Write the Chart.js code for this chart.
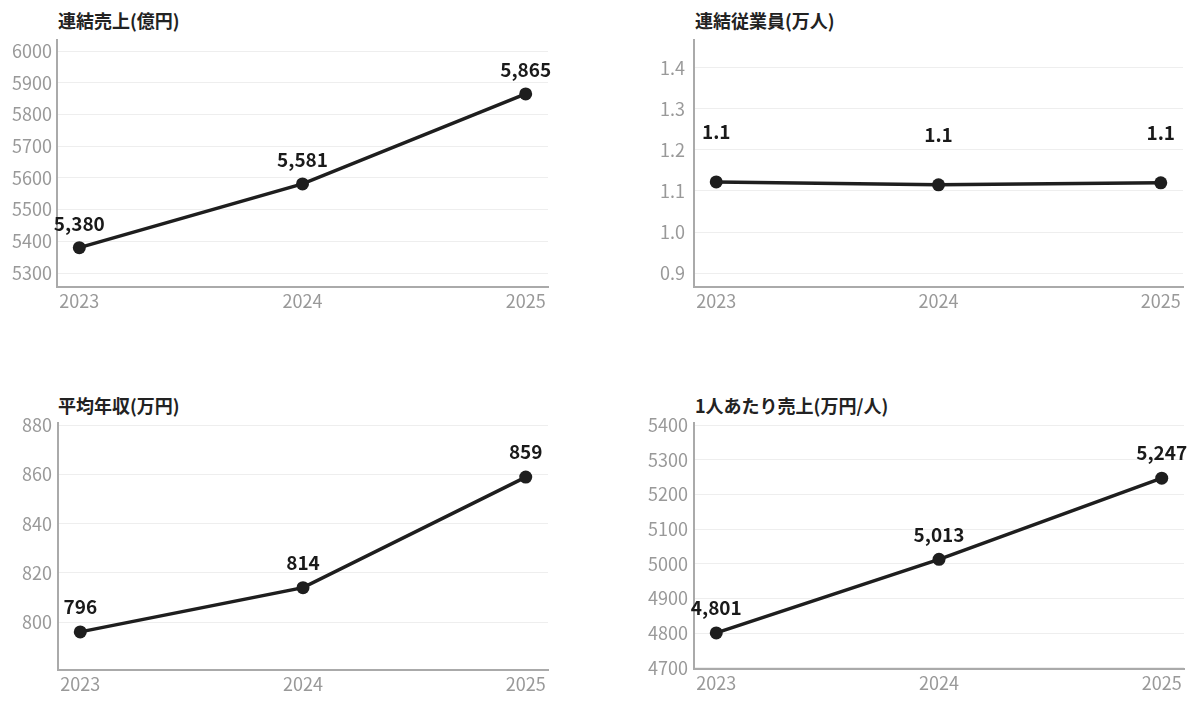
<!DOCTYPE html>
<html lang="ja">
<head>
<meta charset="utf-8">
<script src="https://cdn.jsdelivr.net/npm/chart.js@4.4.1/dist/chart.umd.min.js"></script>
<style>
  body { margin: 0; background: #fff; width: 1200px; height: 702px; position: relative; overflow: hidden; }
  canvas { position: absolute; }
  .titulo { position: absolute; font-family: "Noto Sans CJK JP", "Noto Sans", sans-serif; font-weight: 700; font-size: 18px; color: #222; line-height: 1; white-space: nowrap; }
</style>
</head>
<body>
<div class="titulo" style="left:58px;top:11px">連結売上(億円)</div>
<div class="titulo" style="left:695px;top:11px">連結従業員(万人)</div>
<div class="titulo" style="left:58px;top:396px">平均年収(万円)</div>
<div class="titulo" style="left:695px;top:396px">1人あたり売上(万円/人)</div>
<canvas id="ventas" width="600" height="320" style="left:0;top:0"></canvas>
<canvas id="empleados" width="560" height="320" style="left:640px;top:0"></canvas>
<canvas id="sueldo" width="600" height="322" style="left:0;top:380px"></canvas>
<canvas id="porPersona" width="560" height="322" style="left:640px;top:380px"></canvas>
<script>
const anios = ["2023", "2024", "2025"];
const ventas = [5380, 5581, 5865];
const empleados = [1.122, 1.115, 1.12];
const sueldo = [796, 814, 859];
const porPersona = [4801, 5013, 5247];

// marcas del eje y de cada gráfico
const marcasVentas = [5300, 5400, 5500, 5600, 5700, 5800, 5900, 6000];
const marcasEmpleados = [0.9, 1.0, 1.1, 1.2, 1.3, 1.4];
const marcasSueldo = [800, 820, 840, 860, 880];
const marcasPorPersona = [4700, 4800, 4900, 5000, 5100, 5200, 5300, 5400];

const fuente = '"Noto Sans CJK JP", "Noto Sans", sans-serif';

// etiquetas encima de cada punto
const etiquetas = {
    id: "etiquetas",
    afterDatasetsDraw(chart, args, opts) {
        const ctx = chart.ctx;
        const meta = chart.getDatasetMeta(0);
        const datos = chart.data.datasets[0].data;
        ctx.save();
        ctx.font = "700 19px " + fuente;
        ctx.fillStyle = "#1a1a1a";
        ctx.textAlign = "center";
        ctx.textBaseline = "middle";
        meta.data.forEach((p, i) => {
            ctx.fillText(opts.formato(datos[i].y), p.x, p.y - opts.alto);
        });
        ctx.restore();
    },
};

function fijarMarcas(valores) {
    return function (scale) {
        scale.ticks = valores.map((v) => ({ value: v }));
    };
}

function grafico(id, valores, cfg) {
    new Chart(document.getElementById(id).getContext("2d"), {
        type: "line",
        data: {
            datasets: [{
                data: anios.map((a, i) => ({ x: Number(a), y: valores[i] })),
                borderColor: "#1e1e1e",
                backgroundColor: "#1e1e1e",
                borderWidth: 3.5,
                pointRadius: 6.5,
                pointBackgroundColor: "#1e1e1e",
                pointBorderWidth: 0,
                tension: 0,
            }],
        },
        options: {
            responsive: false,
            animation: false,
            layout: { padding: { top: cfg.arriba, right: cfg.derecha, left: 0, bottom: 0 } },
            scales: {
                x: {
                    type: "linear",
                    min: 2022.9,
                    max: 2025.1,
                    afterBuildTicks: fijarMarcas(anios.map(Number)),
                    afterFit: (s) => { s.height = cfg.altoX; },
                    grid: { display: false, drawTicks: false },
                    border: { display: true, color: "#aaaaaa", width: 2 },
                    ticks: {
                        autoSkip: false,
                        maxRotation: 0,
                        padding: 3,
                        color: "#999999",
                        font: { family: fuente, size: 18 },
                        callback: (v) => String(v),
                    },
                },
                y: {
                    min: cfg.min,
                    max: cfg.max,
                    afterBuildTicks: fijarMarcas(cfg.marcas),
                    afterFit: (s) => { s.width = cfg.anchoY; },
                    grid: { color: "#eeeeee", lineWidth: 1, drawTicks: false },
                    border: { display: true, color: "#aaaaaa", width: 2 },
                    ticks: {
                        autoSkip: false,
                        padding: cfg.sep,
                        color: "#999999",
                        font: { family: fuente, size: 18 },
                        callback: cfg.marca,
                    },
                },
            },
            plugins: {
                legend: { display: false },
                tooltip: { enabled: false },
                etiquetas: { formato: cfg.formato, alto: cfg.alto },
            },
        },
        plugins: [etiquetas],
    });
}

const miles = (v) => v.toLocaleString("en-US");

grafico("ventas", ventas, {
    min: 5256, max: 6035, marcas: marcasVentas, anchoY: 57, derecha: 52, arriba: 40, altoX: 33, sep: 5,
    marca: (v) => String(v), formato: miles, alto: 24,
});
grafico("empleados", empleados, {
    min: 0.866, max: 1.468, marcas: marcasEmpleados, anchoY: 54, derecha: 17, arriba: 40, altoX: 33, sep: 9,
    marca: (v) => v.toFixed(1), formato: (v) => v.toFixed(1), alto: 50,
});
grafico("sueldo", sueldo, {
    min: 780.5, max: 881, marcas: marcasSueldo, anchoY: 58, derecha: 52, arriba: 43, altoX: 32, sep: 6,
    marca: (v) => String(v), formato: miles, alto: 25,
});
grafico("porPersona", porPersona, {
    min: 4697, max: 5406, marcas: marcasPorPersona, anchoY: 54, derecha: 16, arriba: 43, altoX: 33, sep: 6,
    marca: (v) => String(v), formato: miles, alto: 25,
});
</script>
</body>
</html>
